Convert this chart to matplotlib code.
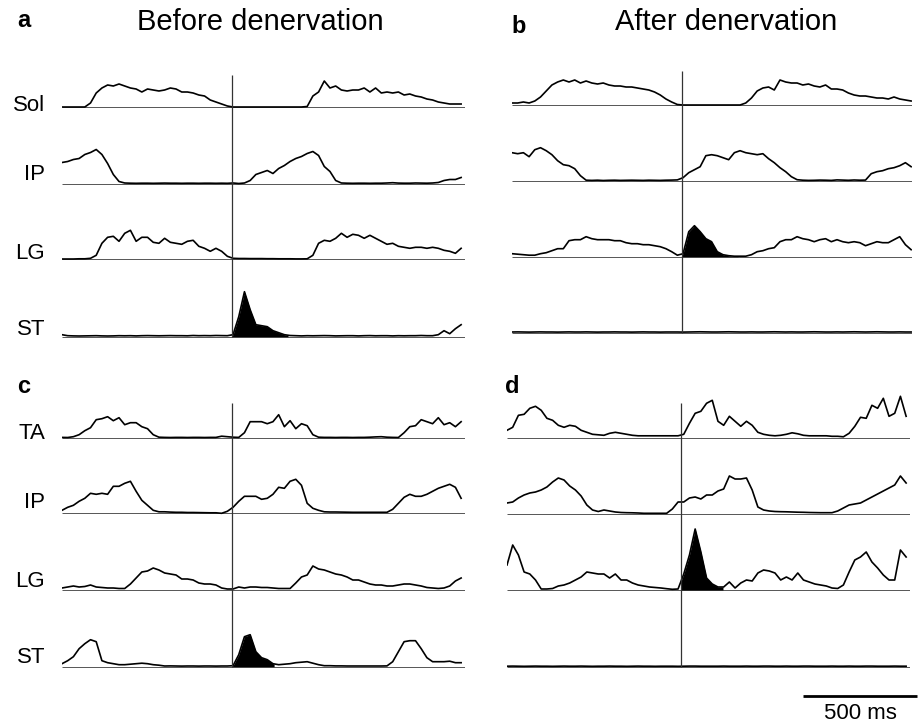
import numpy as np
import matplotlib
matplotlib.use("Agg")
import matplotlib.pyplot as plt

plt.rcParams['font.family'] = ['Liberation Sans', 'DejaVu Sans']

# ---------------- data (rectified EMG envelopes, arbitrary units) ----------------
STEP_MS = 25          # sample spacing of the traces
PANEL_MS = 1767       # time span shown in each panel
SCALE_MS = 500        # scale bar

# Panel a: before denervation
A_SOL = [0, 0, 0, 0, 0, 4, 14, 19, 22, 21, 23, 21, 19, 18, 15, 18, 17, 16, 17, 19, 18, 15, 15, 14, 12, 11, 7, 5, 3, 1,
         0, 0, 0, 0, 0, 0, 0, 0, 0, 0, 0, 0, 0,
         0.5, 11, 15, 26, 19, 21, 17, 16, 17, 17, 19, 15, 19, 14, 15, 14, 15, 12, 13, 11, 10, 8, 7, 5, 4, 3, 3, 3]
A_IP = [21, 22, 24, 25, 29, 31, 34, 29, 20, 9, 2, 0.5,
        0.3, 0.2, 0.3, 0.3, 0.2, 0.3, 0.4, 0.3, 0.3, 0.2, 0.3, 0.3, 0.2, 0.3, 0.3, 0.2, 0.3, 0.2, 0.5,
        0, 0.5, 3, 9, 11, 13, 10, 15, 18, 22, 25, 27, 30, 32, 28, 17, 12, 3, 0.5,
        0.3, 0.2, 0.3, 0.3, 0.2, 0.3, 0.3, 0.5, 0.8, 0.4, 0.3, 0.3, 0.5, 0.4, 0.3,
        0.5, 1, 3, 4, 4, 6]
A_LG = [0.3, 0.3, 0.3, 0.5, 0.5, 1, 4, 16, 22, 23, 18, 26, 29, 18, 22, 22, 17, 16, 21, 17, 16, 15, 18, 19, 13, 11, 8, 11, 8, 3, 1,
        0.8, 0.8, 0.7, 0.7, 0.7, 0.6, 0.6, 0.5, 0.5, 0.5, 0.4, 0.4,
        0.5, 4, 16, 19, 18, 21, 26, 22, 25, 24, 21, 24, 21, 18, 15, 16, 13, 12, 11, 12, 12, 11, 12, 11, 9, 8, 6, 11]
A_ST = [2, 1, 0.8, 0.7, 0.8, 0.9, 1, 0.8, 0.7, 0.8, 1, 0.9, 1, 0.8, 1, 1.1, 1, 0.9, 1, 1.1, 1, 1, 0.9, 1.2, 1, 1.1, 1, 1.2, 1.1, 1,
        2, 20, 45, 27, 12, 11, 10, 6, 4, 2,
        1.2, 1, 0.8, 1, 0.9, 1, 1.1, 1, 0.8, 0.9, 1, 1, 0.8, 1, 1.1, 0.9, 1, 1, 0.8, 1, 0.9, 1, 1, 1.2, 1,
        1, 2, 6, 3, 8, 12]

# Panel b: after denervation
B_SOL = [2, 2, 3, 2, 4, 8, 14, 20, 23, 25, 23, 25, 22, 24, 22, 21, 22, 20, 19, 19, 18, 18, 17, 16, 15, 13, 10, 6, 3, 0.5,
         0, 0, 0, 0, 0, 0, 0, 0, 0, 0, 0,
         2, 7, 14, 17, 18, 15, 25, 23, 22, 22, 20, 21, 19, 18, 20, 16, 16, 15, 12, 10, 9, 9, 8, 7, 7, 6, 8, 6, 5, 4]
B_IP = [28, 27, 28, 24, 31, 33, 30, 26, 20, 16, 15, 12, 5, 0.5,
        0.3, 0.5, 0.2, 0.4, 0.5, 0.3, 0.4, 0.5, 0.4, 0.3, 0.5, 0.4, 0.3, 0.5, 0.6, 0.8,
        3, 8, 11, 14, 25, 26, 25, 23, 21, 28, 30, 28, 27, 26, 27, 22, 18, 13, 9, 4, 1,
        0.5, 0.3, 0.4, 0.6, 0.5, 0.3, 0.8, 0.6, 0.4, 0.7, 0.5, 0.6,
        7, 9, 10, 12, 13, 15, 18, 14]
B_LG = [3, 2.5, 2, 1.5, 1.5, 3, 4, 6, 8, 8, 16, 17, 17, 20, 18, 17, 17, 17, 16, 16, 14, 13, 13, 12, 12, 11, 10, 8, 5, 1.5,
        3, 25, 31, 25, 18, 15, 5, 2, 1, 0.5, 0.5, 0.5,
        2, 5, 6, 8, 9, 15, 17, 17, 20, 18, 17, 15, 17, 18, 15, 17, 15, 14, 15, 14, 11, 13, 15, 14, 14, 17, 20, 12, 7]
B_ST = [0.5, 0.6, 0.5, 0.4, 0.5, 0.6, 0.5, 0.5, 0.4, 0.5, 0.6, 0.5, 0.5, 0.6, 0.5, 0.4, 0.5, 0.5, 0.6, 0.5,
        0.5, 0.4, 0.5, 0.6, 0.5, 0.5, 0.4, 0.5, 0.5, 0.5, 0.4, 0.5, 0.6, 0.7, 0.6, 0.5, 0.5, 0.6, 0.7, 0.6,
        0.5, 0.5, 0.6, 0.5, 0.5, 0.6, 0.7, 0.6, 0.5, 0.6, 0.5, 0.5, 0.6, 0.7, 0.6, 0.5, 0.5, 0.6, 0.5, 0.6,
        0.7, 0.6, 0.5, 0.6, 0.7, 0.6, 0.5, 0.5, 0.6, 0.5, 0.5]

# Panel c: before denervation (second cat)
C_TA = [0.3, 0.2, 1, 3, 7, 10, 18, 19, 21, 17, 20, 13, 15, 15, 11, 9, 3, 0.5,
        0.3, 0.2, 0.3, 0.3, 0.2, 0.3, 0.3, 0.2, 0.3, 0.3, 1.5, 1, 0.5, 0.3,
        5, 16, 16, 16, 14, 16, 23, 11, 17, 9, 14, 12, 3, 0.5,
        0.3, 0.3, 0.2, 0.3, 0.3, 0.2, 0.3, 0.3, 0.5, 0.8, 1, 0.5, 0.3, 0.2,
        5, 11, 12, 18, 16, 14, 20, 13, 15, 11, 16]
C_IP = [3, 6, 8, 12, 15, 20, 19, 20, 19, 27, 27, 30, 32, 22, 13, 8, 3, 1.5, 1.5,
        1.2, 1, 1, 0.8, 0.8, 0.7, 0.6, 0.5, 0.5, 0,
        2, 6, 12, 17, 17, 17, 14, 15, 19, 26, 25, 32, 34, 28, 10, 5, 3,
        1.5, 1.3, 1.3, 1.2, 1.1, 1, 1, 1, 1, 1, 1, 1,
        4, 10, 16, 19, 17, 17, 19, 22, 25, 27, 29, 26, 15]
C_LG = [2, 3, 4, 3, 3.5, 5, 3, 2.5, 2, 2, 1.5, 1.5,
        6, 12, 18, 19, 22, 20, 17, 16, 15, 11, 11, 10, 7, 6, 6, 5, 2, 1, 1,
        3, 2, 3, 3, 2.5, 2.5, 2, 1.5, 1.5, 1.5,
        7, 13, 15, 24, 21, 20, 18, 16, 15, 13, 10, 10, 8, 6, 5, 5, 4, 4, 5, 6, 6, 5, 4, 2.5, 2, 1.5, 2, 4, 9, 12]
C_ST = [3, 6, 10, 18, 23, 27, 25, 6, 4, 3, 2, 2, 2.5, 3, 3.5, 3, 2, 1.5,
        0.7, 0.8, 0.7, 0.6, 0.7, 0.7, 0.6, 0.7, 0.7, 0.6, 0.7, 0.7,
        1, 12, 30, 32, 15, 9, 7, 3, 2, 2.5, 3, 4, 4.5, 5, 3.5, 2, 1,
        1, 0.8, 0.8, 0.7, 0.7, 0.7, 0.7, 0.7, 0.7, 0.7, 0.8,
        5, 15, 25, 26, 26, 18, 9, 5, 5, 5, 5.5, 4, 4]

# Panel d: after denervation (second cat)
D_TA = [8, 11, 23, 24, 30, 32, 28, 20, 18, 13, 11, 13, 12, 8, 6, 4, 3.5, 3,
        5, 6, 5, 4, 3, 2.5, 2.5, 2.5, 2.5, 2.5, 2.5, 2.5, 2.5,
        4, 15, 25, 27, 35, 38, 17, 13, 22, 17, 12, 17, 13, 6, 4,
        3, 2.5, 3, 4, 5.5, 4.5, 3, 2.5, 2.5, 2.5, 2.5, 2, 2, 1.5,
        5, 12, 21, 20, 33, 30, 40, 22, 25, 42, 22]
D_IP = [11, 12, 16, 19, 21, 22, 24, 27, 32, 36, 34, 28, 24, 18, 9, 4, 2.5,
        4, 3, 2, 1.5, 1.3, 1.2, 1, 0.7, 0.7, 0.7, 0.7, 0.7,
        5, 12, 12, 16, 17, 15, 19, 19, 23, 25, 38, 35, 35, 36, 24, 7, 4, 3,
        2.5, 2.3, 2.2, 2, 1.8, 1.7, 1.5, 1.4, 1.3, 1.3, 1.3,
        3, 6, 9, 10, 11, 14, 17, 20, 23, 26, 29, 38, 31]
D_LG = [25, 45, 35, 18, 16, 10, 1, 1, 1.5, 4, 5, 7, 10, 13, 18, 17, 16, 16, 12, 16, 10, 10, 7, 5, 4, 3, 2.5, 2, 1.3, 0.7,
        1, 16, 35, 61, 38, 12, 6, 3, 3, 8, 2,
        7, 10, 9, 17, 20, 19, 17, 10, 13, 10, 17, 10, 8, 6, 5, 4, 2, 1.5, 5, 18, 30, 33, 38, 28, 22, 15, 10, 10, 40, 33]
D_ST = [0.6, 0.7, 0.6, 0.5, 0.6, 0.7, 0.6, 0.6, 0.5, 0.6, 0.7, 0.6, 0.6, 0.7, 0.6, 0.5, 0.6, 0.6, 0.7, 0.6,
        0.6, 0.5, 0.6, 0.7, 0.6, 0.6, 0.5, 0.6, 0.6, 0.6, 0.5, 0.6, 0.7, 0.7, 0.6, 0.6, 0.6, 0.6, 0.7, 0.6,
        0.6, 0.6, 0.7, 0.6, 0.6, 0.7, 0.7, 0.6, 0.6, 0.7, 0.6, 0.6, 0.7, 0.7, 0.6, 0.6, 0.6, 0.7, 0.6, 0.6,
        0.7, 0.6, 0.6, 0.7, 0.7, 0.6, 0.6, 0.6, 0.7, 0.6, 0.6]

LABELS_TOP = ['Sol', 'IP', 'LG', 'ST']
LABELS_BOTTOM = ['TA', 'IP', 'LG', 'ST']
TITLES = ['Before denervation', 'After denervation']
PANEL_LETTERS = ['a', 'b', 'c', 'd']
STIM_MS = {'a': 744, 'b': 744, 'c': 744, 'd': 762}
FILL_END_MS = {'a': 991, 'b': 991, 'c': 930, 'd': 947}
FILL_ROW = {'a': 3, 'b': 2, 'c': 3, 'd': 2}

# ---------------- layout (pixels) ----------------
W, H = 923, 724
fig = plt.figure(figsize=(W / 100, H / 100), dpi=100)
fig.patch.set_facecolor('white')


def fpos(x, y):
    return x / W, 1 - y / H


panels = [
    dict(key='a', x0=62, x1=465, top=55, bottom=345, vtop=75,
         bases=[107, 183.5, 259.3, 336.7], traces=[A_SOL, A_IP, A_LG, A_ST]),
    dict(key='b', x0=512, x1=912, top=55, bottom=345, vtop=71,
         bases=[105, 180.7, 256.7, 332.5], traces=[B_SOL, B_IP, B_LG, B_ST]),
    dict(key='c', x0=62, x1=465, top=395, bottom=680, vtop=403,
         bases=[437.7, 513.3, 590, 666.7], traces=[C_TA, C_IP, C_LG, C_ST]),
    dict(key='d', x0=507, x1=910, top=395, bottom=680, vtop=403,
         bases=[438.3, 514, 590, 666.8], traces=[D_TA, D_IP, D_LG, D_ST]),
]

px_per_ms = 403 / PANEL_MS
axes = {}
for p in panels:
    left, bot = fpos(p['x0'], p['bottom'])
    w = (p['x1'] - p['x0']) / W
    h = (p['bottom'] - p['top']) / H
    ax = fig.add_axes([left, bot, w, h])
    ax.set_xlim(0, (p['x1'] - p['x0']) / px_per_ms)
    ax.set_ylim(p['bottom'], p['top'])
    ax.axis('off')
    axes[p['key']] = ax
    xmax = (p['x1'] - p['x0']) / px_per_ms
    stim = STIM_MS[p['key']]
    for r, (base, tr) in enumerate(zip(p['bases'], p['traces'])):
        amp = np.asarray(tr, dtype=float)
        t = np.arange(len(amp)) * STEP_MS
        ax.hlines(base, 0, xmax, color='#555555', lw=0.7, zorder=1)
        if r == FILL_ROW[p['key']]:
            tt = np.linspace(stim, FILL_END_MS[p['key']], 300)
            ax.fill_between(tt, base, base - np.interp(tt, t, amp),
                            color='black', lw=0, zorder=2)
        ax.plot(t, base - amp, color='black', lw=1.2, zorder=3,
                solid_joinstyle='round')
    ax.vlines(stim, p['vtop'], p['bases'][-1], color='#333333', lw=0.9, zorder=4)

# scale bar (500 ms) under panel d
axd = axes['d']
sb_start = (803 - 507) / px_per_ms
axd.plot([sb_start, sb_start + SCALE_MS], [695.7, 695.7], color='black', lw=2.0,
         clip_on=False, solid_capstyle='butt')
axd.text(sb_start + SCALE_MS / 2, 719, f'{SCALE_MS} ms', ha='center', va='baseline',
         fontsize=16, clip_on=False)

# texts
fig.text(*fpos(260, 30), TITLES[0], ha='center', va='baseline', fontsize=21)
fig.text(*fpos(726, 30), TITLES[1], ha='center', va='baseline', fontsize=21)
for letter, (x, y) in zip(PANEL_LETTERS, [(17, 27), (511, 33), (17, 393), (505, 393)]):
    fig.text(*fpos(x, y), letter, ha='left', va='baseline', fontsize=17, fontweight='bold')

for lab, y in zip(LABELS_TOP, [111, 180, 259, 335]):
    fig.text(*fpos(45, y), lab, ha='right', va='baseline', fontsize=16)
for lab, y in zip(LABELS_BOTTOM, [439, 508, 587, 663]):
    fig.text(*fpos(45, y), lab, ha='right', va='baseline', fontsize=16)

fig.savefig('out.png', dpi=100, facecolor='white')
